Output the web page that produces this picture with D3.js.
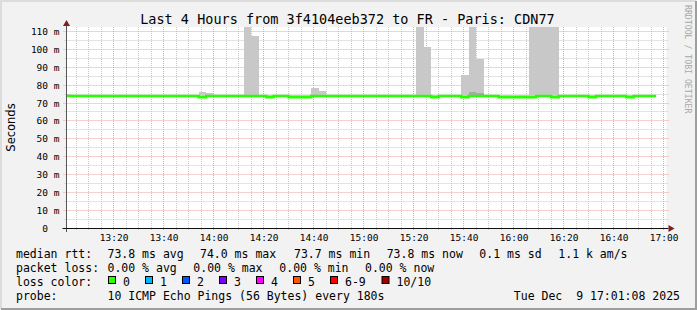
<!DOCTYPE html>
<html>
<head>
<meta charset="utf-8">
<script src="https://cdnjs.cloudflare.com/ajax/libs/d3/7.8.5/d3.min.js"></script>
<style>
body { margin: 0; background: #f2f2f2; }
text { font-family: "DejaVu Sans Mono", monospace; fill: #000; white-space: pre; }
</style>
</head>
<body>
<div id="chart"></div>
<script>
// one value per 3 minute bin, bins ending 13:03, 13:06 ... 16:57 (ms)
var median = [
    73.9, 73.9, 73.9, 73.9, 73.9, 73.9, 73.9, 73.9, 73.9, 73.9,
    73.9, 73.9, 73.9, 73.9, 73.9, 73.9, 73.9, 73.9, 73.3, 73.9,
    73.9, 73.9, 73.9, 73.9, 73.9, 73.9, 73.9, 73.3, 73.9, 73.9,
    73.3, 73.3, 73.3, 73.9, 73.9, 73.9, 73.9, 73.9, 73.9, 73.9,
    73.9, 73.9, 73.9, 73.9, 73.9, 73.9, 73.9, 73.9, 73.9, 73.3,
    73.9, 73.9, 73.9, 73.3, 73.9, 73.9, 73.9, 73.9, 73.3, 73.3,
    73.3, 73.3, 73.3, 73.9, 73.9, 73.3, 73.9, 73.9, 73.9, 73.9,
    73.3, 73.9, 73.9, 73.9, 73.9, 73.3, 73.9, 73.9, 73.9
];

var smokeLow = [
    73.2, 73.2, 73.2, 73.2, 73.2, 73.2, 73.2, 73.2, 73.2, 73.2,
    73.2, 73.2, 73.2, 73.2, 73.2, 73.2, 73.2, 73.2, 73.1, 73.2,
    73.2, 73.2, 73.2, 73.2, 73.2, 73.2, 73.2, 73.1, 73.2, 73.2,
    73.1, 73.1, 73.1, 73.2, 73.2, 73.2, 73.2, 73.2, 73.2, 73.2,
    73.2, 73.2, 73.2, 73.2, 73.2, 73.2, 73.2, 73.2, 73.2, 73.1,
    73.2, 73.2, 73.2, 73.1, 73.2, 73.2, 73.2, 73.2, 73.1, 73.1,
    73.1, 73.1, 73.1, 73.2, 73.2, 73.1, 73.2, 73.2, 73.2, 73.2,
    73.1, 73.2, 73.2, 73.2, 73.2, 73.1, 73.2, 73.2, 73.2
];

var smokeHigh = [
    75.0, 74.3, 74.3, 74.3, 74.3, 74.3, 74.3, 74.3, 74.3, 74.3,
    74.3, 74.3, 74.3, 74.3, 74.3, 74.3, 74.3, 74.3, 76.4, 75.6,
    74.3, 74.3, 74.3, 74.3, 115, 107.7, 74.3, 74.3, 74.3, 74.3,
    74.3, 74.3, 74.3, 78.4, 76.7, 74.3, 74.3, 74.3, 74.3, 74.3,
    74.3, 74.3, 74.3, 74.3, 74.3, 74.3, 74.3, 115, 101.2, 74.3,
    74.3, 74.3, 74.3, 85.6, 115, 94.6, 74.3, 74.3, 74.3, 74.3,
    74.3, 74.3, 115, 115, 115, 115, 74.3, 74.3, 74.3, 74.3,
    74.3, 74.3, 74.3, 74.3, 74.3, 74.3, 74.3, 74.3, 74.3
];

// darker smoke where most pings overlap
var denseBins = [54, 55],
    denseHigh = [76.4, 75.5];

var yTicks = [0, 10, 20, 30, 40, 50, 60, 70, 80, 90, 100, 110],
    yTickLabels = ["0  ", "10 m", "20 m", "30 m", "40 m", "50 m", "60 m", "70 m", "80 m", "90 m", "100 m", "110 m"];

var lossLabels = ["0", "1", "2", "3", "4", "5", "6-9", "10/10"],
    lossColors = ["#26ff00", "#00b8ff", "#0059ff", "#7e00ff", "#ff00ff", "#ff5500", "#ff0000", "#a10000"];

var statsRtt = ["73.8 ms avg", "74.0 ms max", "73.7 ms min", "73.8 ms now", "0.1 ms sd", "1.1 k am/s"],
    statsLoss = ["0.00 % avg", "0.00 % max", "0.00 % min", "0.00 % now"];

var title = "Last 4 Hours from 3f4104eeb372 to FR - Paris: CDN77",
    probe = "10 ICMP Echo Pings (56 Bytes) every 180s",
    stamp = "Tue Dec  9 17:01:08 2025";

var width = 697, height = 310,
    plot = {left: 66.5, right: 666.5, top: 27, bottom: 228};

var start = new Date(2025, 11, 9, 13, 1, 8),
    end = new Date(2025, 11, 9, 17, 1, 8),
    firstEnd = new Date(2025, 11, 9, 13, 3, 0),
    step = 3 * 60 * 1000;

var binEnds = median.map(function(d, i) {return new Date(+firstEnd + i * step)});

var x = d3.scaleTime()
    .domain([start, end])
    .range([plot.left, plot.right]);

var y = d3.scaleLinear()
    .domain([0, 112.6])
    .range([plot.bottom, plot.top]);

function crisp(v) {return Math.floor(v) + 0.5}

var svg = d3.select("#chart").append("svg")
    .attr("width", width)
    .attr("height", height);

svg.append("rect")
    .attr("width", width).attr("height", height)
    .attr("fill", "#f2f2f2");

// 3d border
svg.append("path").attr("d", "M1,309V1H696").attr("fill", "none").attr("stroke", "#dcdcdc").attr("stroke-width", 2);
svg.append("path").attr("d", "M1,309H696V1").attr("fill", "none").attr("stroke", "#9e9e9e").attr("stroke-width", 2);

svg.append("rect")
    .attr("x", plot.left).attr("y", plot.top)
    .attr("width", plot.right - plot.left).attr("height", plot.bottom - plot.top)
    .attr("fill", "#fff");

svg.append("clipPath").attr("id", "clip")
  .append("rect")
    .attr("x", plot.left).attr("y", plot.top)
    .attr("width", plot.right - plot.left).attr("height", plot.bottom - plot.top);

// grid
var majorX = d3.timeMinute.every(20).range(start, end),
    minorX = d3.timeMinute.every(5).range(start, end).filter(function(d) {return d.getMinutes() % 20});
var majorY = yTicks.slice(1),
    minorY = d3.range(5, 112, 10);

var grid = svg.append("g");

grid.selectAll(".minor-x").data(minorX)
  .enter().append("line")
    .attr("x1", function(d) {return crisp(x(d))}).attr("x2", function(d) {return crisp(x(d))})
    .attr("y1", plot.top).attr("y2", plot.bottom + 2)
    .attr("stroke", "#c8c8c8").attr("stroke-dasharray", "1,1");

grid.selectAll(".minor-y").data(minorY)
  .enter().append("line")
    .attr("x1", plot.left - 2).attr("x2", plot.right + 2)
    .attr("y1", function(d) {return crisp(y(d))}).attr("y2", function(d) {return crisp(y(d))})
    .attr("stroke", "#c8c8c8").attr("stroke-dasharray", "1,1");

grid.selectAll(".major-x").data(majorX)
  .enter().append("line")
    .attr("x1", function(d) {return crisp(x(d))}).attr("x2", function(d) {return crisp(x(d))})
    .attr("y1", plot.top).attr("y2", plot.bottom + 3)
    .attr("stroke", "#eea0a0").attr("stroke-dasharray", "1,1");

grid.selectAll(".major-y").data(majorY)
  .enter().append("line")
    .attr("x1", plot.left - 3).attr("x2", plot.right + 3)
    .attr("y1", function(d) {return crisp(y(d))}).attr("y2", function(d) {return crisp(y(d))})
    .attr("stroke", "#eea0a0").attr("stroke-dasharray", "1,1");

// smoke
var smoke = svg.append("g").attr("clip-path", "url(#clip)");

smoke.selectAll(".smoke").data(binEnds)
  .enter().append("rect")
    .attr("x", function(d) {return x(new Date(+d - step))})
    .attr("width", function(d) {return x(d) - x(new Date(+d - step))})
    .attr("y", function(d, i) {return y(smokeHigh[i])})
    .attr("height", function(d, i) {return y(smokeLow[i]) - y(smokeHigh[i])})
    .attr("fill", "#c8c8c8")
    .attr("shape-rendering", "crispEdges");

smoke.selectAll(".dense").data(denseBins)
  .enter().append("rect")
    .attr("x", function(k) {return x(new Date(+binEnds[k] - step))})
    .attr("width", function(k) {return x(binEnds[k]) - x(new Date(+binEnds[k] - step))})
    .attr("y", function(k, i) {return y(denseHigh[i])})
    .attr("height", function(k, i) {return y(smokeLow[k]) - y(denseHigh[i])})
    .attr("fill", "#a8a8a8")
    .attr("shape-rendering", "crispEdges");

// median line, stepped per bin
var medianPts = binEnds.map(function(d, i) {return [new Date(+d - step), median[i]]});
medianPts.push([binEnds[binEnds.length - 1], median[median.length - 1]]);

smoke.append("path")
    .datum(medianPts)
    .attr("fill", "none")
    .attr("stroke", lossColors[0])
    .attr("stroke-width", 2.5)
    .attr("d", d3.line()
        .curve(d3.curveStepAfter)
        .x(function(d) {return x(d[0])})
        .y(function(d) {return y(d[1])}));

// axes
var yAxis = svg.append("g")
    .attr("transform", "translate(" + plot.left + ",0)")
    .call(d3.axisLeft(y)
        .tickValues(yTicks)
        .tickFormat(function(d, i) {return yTickLabels[i]})
        .tickSize(0)
        .tickPadding(7));
yAxis.select(".domain").remove();
yAxis.selectAll("text").attr("font-family", "DejaVu Sans Mono").attr("font-size", "9.5px").attr("fill", "#111");

var xAxis = svg.append("g")
    .attr("transform", "translate(0," + plot.bottom + ")")
    .call(d3.axisBottom(x)
        .ticks(d3.timeMinute.every(20))
        .tickFormat(d3.timeFormat("%H:%M"))
        .tickSize(0)
        .tickPadding(6));
xAxis.select(".domain").remove();
xAxis.selectAll("text").attr("font-family", "DejaVu Sans Mono").attr("font-size", "9.5px").attr("fill", "#111");

svg.append("line")
    .attr("x1", plot.left).attr("x2", plot.left)
    .attr("y1", plot.bottom + 4).attr("y2", plot.top - 3)
    .attr("stroke", "#555");
svg.append("line")
    .attr("x1", plot.left - 4).attr("x2", plot.right + 2)
    .attr("y1", plot.bottom + 0.5).attr("y2", plot.bottom + 0.5)
    .attr("stroke", "#111");

svg.append("path")
    .attr("d", "M" + plot.left + "," + (plot.top - 7) + "l-3.5,6h7z")
    .attr("fill", "#7f1f1f");
svg.append("path")
    .attr("d", "M" + (plot.right + 8) + "," + (plot.bottom + 0.5) + "l-6,-3.5v7z")
    .attr("fill", "#7f1f1f");

// titles
svg.append("text")
    .attr("x", 347.5).attr("y", 24)
    .attr("text-anchor", "middle")
    .attr("font-size", "13.5px")
    .text(title);

svg.append("text")
    .attr("transform", "translate(14.5,127.5) rotate(-90)")
    .attr("text-anchor", "middle")
    .attr("font-family", "DejaVu Sans")
    .style("font-family", "DejaVu Sans")
    .attr("font-size", "11.5px")
    .text("Seconds");

svg.append("text")
    .attr("transform", "translate(685,5) rotate(90)")
    .attr("font-size", "8.2px")
    .style("fill", "#a8a8a8")
    .text("RRDTOOL / TOBI OETIKER");

// legend
var legend = svg.append("g").attr("font-size", "11.5px");
var rowY = [257.7, 271.8, 285.9, 300];
var rttX = [107.5, 200, 294, 386.7, 479.3, 558.3],
    lossX = [107.5, 193.3, 279.3, 365],
    boxX = [108, 145, 182, 219, 256, 293, 330, 381.5];

legend.append("text").attr("x", 16).attr("y", rowY[0]).text("median rtt:");
legend.selectAll(".rtt").data(statsRtt)
  .enter().append("text")
    .attr("x", function(d, i) {return rttX[i]}).attr("y", rowY[0])
    .text(function(d) {return d});

legend.append("text").attr("x", 16).attr("y", rowY[1]).text("packet loss:");
legend.selectAll(".loss").data(statsLoss)
  .enter().append("text")
    .attr("x", function(d, i) {return lossX[i]}).attr("y", rowY[1])
    .text(function(d) {return d});

legend.append("text").attr("x", 16).attr("y", rowY[2]).text("loss color:");
legend.selectAll(".box").data(lossColors)
  .enter().append("rect")
    .attr("x", function(d, i) {return boxX[i] + 0.5}).attr("y", 276.5)
    .attr("width", 7).attr("height", 7)
    .attr("fill", function(d) {return d})
    .attr("stroke", "#000");
legend.selectAll(".lbl").data(lossLabels)
  .enter().append("text")
    .attr("x", function(d, i) {return boxX[i] + 15}).attr("y", rowY[2])
    .text(function(d) {return d});

legend.append("text").attr("x", 16).attr("y", rowY[3]).text("probe:");
legend.append("text").attr("x", 107.5).attr("y", rowY[3]).text(probe);
legend.append("text").attr("x", 680).attr("y", rowY[3]).attr("text-anchor", "end").text(stamp);
</script>
</body>
</html>
